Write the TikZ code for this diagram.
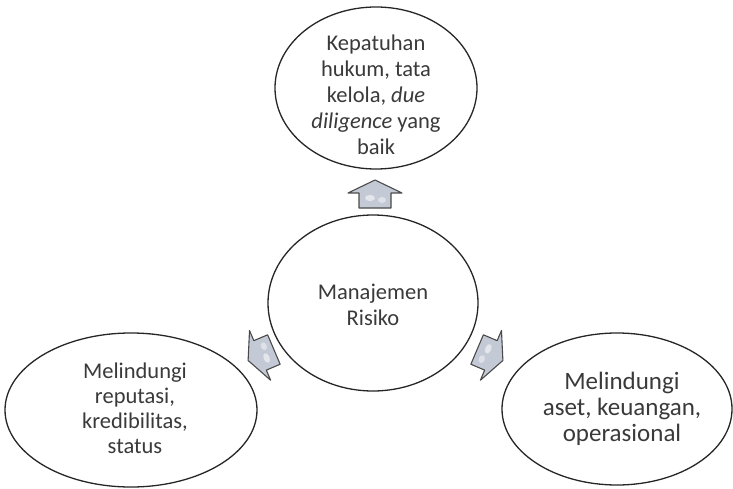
\documentclass[tikz,border=0pt]{standalone}
\usepackage{fontspec}
\setmainfont{Carlito}
\usetikzlibrary{shapes.geometric}
\definecolor{edgecol}{HTML}{262626}
\definecolor{txtcol}{HTML}{3A3A3A}
\definecolor{arrfill}{HTML}{C4C9D6}
\definecolor{arrdraw}{HTML}{4A4A4A}
\tikzset{
  ell/.style={ellipse, draw=edgecol, line width=1.3pt, fill=white, inner sep=0pt},
  txt/.style={align=center, text=txtcol, inner sep=0pt},
  arrowstyle/.style={draw=arrdraw, fill=arrfill, line width=1.1pt, line join=round},
  blockarrow/.pic={
    \draw[arrowstyle] (14,0) -- (1,27) -- (1,16) -- (-14,16) -- (-14,-16) -- (1,-16) -- (1,-27) -- cycle;
    \fill[white, opacity=0.55] (-4,-5) ellipse (3 and 5);
    \fill[white, opacity=0.45] (-6,7) ellipse (3 and 4);
  }
}
\begin{document}
\begin{tikzpicture}[x=1pt,y=-1pt]
\useasboundingbox (0,0) rectangle (733,489);
% ellipses
\node[ell, minimum width=202pt, minimum height=162pt] (top) at (376,88) {};
\node[ell, minimum width=210pt, minimum height=176pt] (mid) at (373,303) {};
\node[ell, minimum width=252pt, minimum height=154pt] (left) at (131,410) {};
\node[ell, minimum width=230pt, minimum height=152pt] (right) at (617,409) {};
% texts
\node[txt, font=\fontsize{22.5}{26}\selectfont] (toptxt) at (top.center) [yshift=-7pt]
  {Kepatuhan\\hukum, tata\\kelola, \textit{due}\\\textit{diligence} yang\\baik};
\node[txt, font=\fontsize{22.5}{26}\selectfont] (midtxt) at (mid.center) [yshift=-2pt]
  {Manajemen\\Risiko};
\node[txt, font=\fontsize{22.5}{25}\selectfont] (lefttxt) at (left.center) [xshift=4pt, yshift=2pt]
  {Melindungi\\reputasi,\\kredibilitas,\\status};
\node[txt, font=\fontsize{25}{26}\selectfont] (righttxt) at (right.center) [xshift=5pt]
  {Melindungi\\aset, keuangan,\\operasional};
% block arrows
\pic[rotate=90] (aup) at (375,194) {blockarrow};
\pic[rotate=203] (aleft) at (261,355) {blockarrow};
\pic[rotate=-23] (aright) at (490,355) {blockarrow};
\end{tikzpicture}
\end{document}
